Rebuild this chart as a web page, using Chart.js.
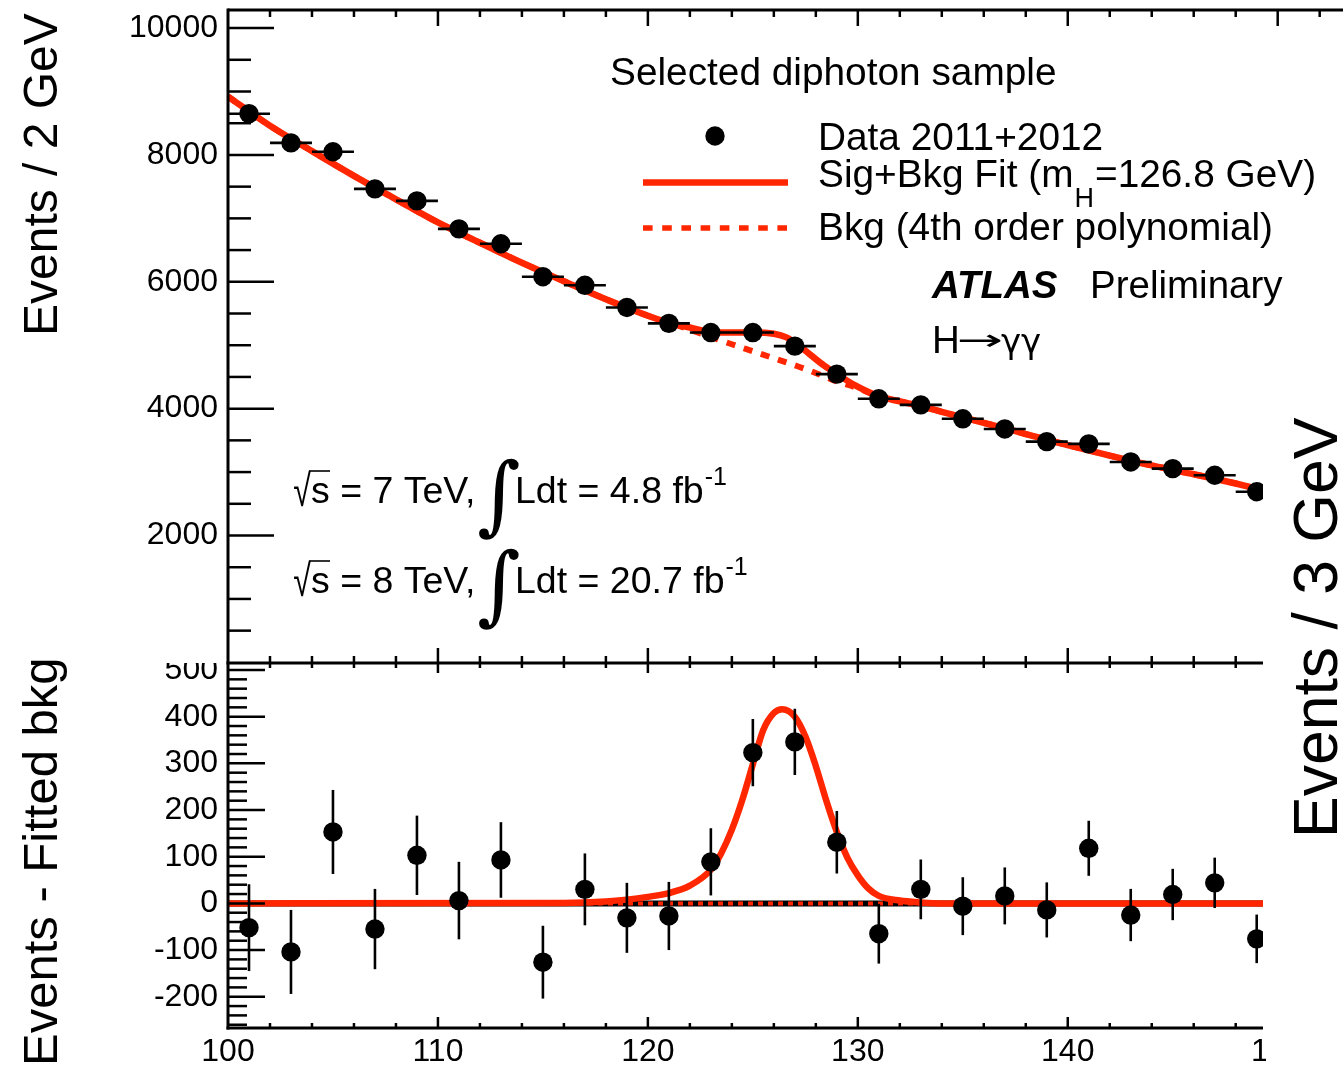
<!DOCTYPE html>
<html>
<head>
<meta charset="utf-8">
<title>H to gamma gamma diphoton mass</title>
<script src="https://cdn.jsdelivr.net/npm/chart.js@4.4.0/dist/chart.umd.min.js"></script>
<style>
  body { margin: 0; background: #fff; }
  #wrap { position: relative; width: 1343px; height: 1068px; }
  canvas { position: absolute; left: 0; top: 0; }
</style>
</head>
<body>
<div id="wrap">
  <canvas id="lower" width="1343" height="1068"></canvas>
  <canvas id="upper" width="1343" height="1068"></canvas>
</div>
<script>
// diphoton mass bin centres, 2 GeV bins
const mass = [101, 103, 105, 107, 109, 111, 113, 115, 117, 119, 121, 123, 125,
              127, 129, 131, 133, 135, 137, 139, 141, 143, 145, 147, 149];
const events = [8650, 8190, 8050, 7465, 7275, 6835, 6600, 6080, 5945, 5595, 5345, 5200, 5200,
                4985, 4545, 4155, 4060, 3840, 3680, 3480, 3445, 3160, 3055, 2950, 2690];
const eventErr = [93, 90, 90, 86, 85, 83, 81, 78, 77, 75, 73, 72, 72,
                  71, 67, 64, 64, 62, 61, 59, 59, 56, 55, 54, 52];
// data minus fitted background
const residual = [-52, -104, 153, -55, 103, 6, 93, -126, 30, -31, -27, 89, 323,
                  346, 131, -65, 30, -6, 16, -14, 118, -25, 19, 44, -76];

// sig+bkg and bkg-only fit curves
const fitMass = [100, 102, 104, 106, 108, 110, 112, 114, 116, 118, 120, 121, 122, 123, 124, 125, 126,
                 126.6, 127.1, 127.7, 128.4, 129, 129.9, 131, 132, 133, 134, 135, 136, 137, 138,
                 140, 142, 144, 146, 147, 148, 149.3, 150];
const sigBkgFit = [8920, 8460, 8060, 7670, 7300, 6935, 6615, 6300, 6010, 5725, 5465, 5355, 5280, 5210, 5200, 5200, 5180,
                   5123, 5018, 4860, 4677, 4546, 4362, 4195, 4115, 4040, 3950, 3862, 3775, 3690, 3600,
                   3425, 3260, 3105, 2965, 2895, 2820, 2715, 2660];
const bkgFit = [8920, 8460, 8060, 7670, 7300, 6935, 6615, 6300, 6010, 5725, 5465, 5355, 5245, 5130, 5015, 4905, 4795,
                4730, 4672, 4600, 4508, 4430, 4335, 4195, 4115, 4040, 3950, 3862, 3775, 3690, 3600,
                3425, 3260, 3105, 2965, 2895, 2820, 2715, 2660];

// signal component shown in the residual panel
const sigMass = [100, 116, 118, 119, 120, 121, 122, 123, 123.5, 124, 124.5, 125, 125.5, 126, 126.4,
                 127, 127.5, 128, 128.5, 129, 129.5, 130, 130.5, 131, 132, 133, 134, 150];
const sigFit = [0, 1, 4, 8, 14, 22, 38, 72, 108, 158, 222, 298, 372, 408, 416,
                400, 358, 294, 220, 153, 98, 60, 32, 16, 6, 2, 0, 0];
const zeroMass = [100, 150];
const zeroFit = [0, 0];

const massTicks = [100, 110, 120, 130, 140, 150];
const countTicks = [2000, 4000, 6000, 8000, 10000];
const residTicks = [-200, -100, 0, 100, 200, 300, 400, 500];

const RED = '#ff2600';
const FONT = '"Liberation Sans", Arial, Helvetica, sans-serif';
Chart.defaults.font.family = FONT;
Chart.defaults.color = '#000';

const pts = (xs, ys) => xs.map((x, i) => ({ x, y: ys[i] }));
const plain = v => String(v);

function noPadding(s) {
  s.paddingLeft = s.paddingRight = s.paddingTop = s.paddingBottom = 0;
}

function line(ctx, x1, y1, x2, y2, w) {
  ctx.beginPath();
  ctx.moveTo(x1, y1);
  ctx.lineTo(x2, y2);
  ctx.lineWidth = w;
  ctx.stroke();
}

function txt(ctx, s, x, y, size, style, family) {
  ctx.font = (style ? style + ' ' : '') + size + 'px ' + (family || FONT);
  ctx.fillText(s, x, y);
  return x + ctx.measureText(s).width;
}

// rotated title, reading bottom to top; (x, y) is the baseline start
function vtxt(ctx, s, x, y, size) {
  ctx.save();
  ctx.translate(x, y);
  ctx.rotate(-Math.PI / 2);
  ctx.font = size + 'px ' + FONT;
  ctx.fillText(s, 0, 0);
  ctx.restore();
}

// draw one glyph stretched to fill a box
function glyphBox(ctx, ch, font, x0, y0, x1, y1) {
  ctx.save();
  ctx.font = font;
  const m = ctx.measureText(ch);
  const w = m.actualBoundingBoxLeft + m.actualBoundingBoxRight;
  const h = m.actualBoundingBoxAscent + m.actualBoundingBoxDescent;
  ctx.translate(x0, y0);
  ctx.scale((x1 - x0) / w, (y1 - y0) / h);
  ctx.fillText(ch, m.actualBoundingBoxLeft, m.actualBoundingBoxAscent);
  ctx.restore();
}

function lumiLine(ctx, y, energy, lumi) {
  const dy = y - 503;
  glyphBox(ctx, '\u221A', '100px ' + FONT, 294, 470 + dy, 311, 506 + dy);
  line(ctx, 309, 471 + dy, 330, 471 + dy, 1.6);
  txt(ctx, 's = ' + energy + ' TeV,', 311, y, 37.5);
  glyphBox(ctx, '\u222B', '100px "DejaVu Serif"', 479, 458 + dy, 519, 540 + dy);
  const x = txt(ctx, 'Ldt = ' + lumi + ' fb', 515, y, 37.5);
  txt(ctx, '-1', x + 1, y - 18, 25);
}

// error bars drawn just under the markers
function errorBars(errs, halfWidth) {
  return {
    id: 'errorBars',
    beforeDatasetDraw(chart, args) {
      if (args.index !== 0) return;
      const { ctx, chartArea: a, scales: { x, y } } = chart;
      ctx.save();
      ctx.beginPath();
      ctx.rect(a.left, a.top, a.width, a.height);
      ctx.clip();
      ctx.strokeStyle = '#000';
      chart.data.datasets[0].data.forEach((p, i) => {
        const px = x.getPixelForValue(p.x), py = y.getPixelForValue(p.y);
        line(ctx, px, y.getPixelForValue(p.y - errs[i]), px, y.getPixelForValue(p.y + errs[i]), 2.6);
        if (halfWidth) line(ctx, x.getPixelForValue(p.x - halfWidth), py, x.getPixelForValue(p.x + halfWidth), py, 2.6);
      });
      ctx.restore();
    }
  };
}

const upperFrame = {
  id: 'upperFrame',
  afterDraw(chart) {
    const { ctx, chartArea: a, scales: { x, y } } = chart;
    ctx.save();
    ctx.strokeStyle = '#000';
    ctx.fillStyle = '#fff';
    ctx.fillRect(100, 630, a.left - 102, a.bottom - 630);

    line(ctx, a.left, a.top - 1.5, a.left, a.bottom, 3);
    line(ctx, a.left, a.top, chart.width, a.top, 3);
    for (let m = 102; m <= 152; m += 2) {
      const px = x.getPixelForValue(m);
      const major = m % 10 === 0;
      line(ctx, px, a.top, px, a.top + (major ? 16 : 7), 2.5);
      if (m < 149.3) line(ctx, px, a.bottom, px, a.bottom - (major ? 15 : 7), 2.5);
    }
    for (let v = 500; v <= 10000; v += 500) {
      const py = y.getPixelForValue(v);
      line(ctx, a.left, py, a.left + (v % 2000 === 0 ? 46 : 23), py, 2.5);
    }

    // the neighbouring plot's margin
    ctx.fillRect(1266, 27, chart.width - 1266, chart.height - 27);

    ctx.fillStyle = '#000';
    ctx.textAlign = 'left';
    ctx.textBaseline = 'alphabetic';
    txt(ctx, 'Selected diphoton sample', 610, 85, 38.8);

    ctx.beginPath();
    ctx.arc(715, 136, 9.7, 0, Math.PI * 2);
    ctx.fill();
    txt(ctx, 'Data 2011+2012', 818, 150, 38.8);

    ctx.strokeStyle = RED;
    line(ctx, 643, 182.5, 788, 182.5, 6.5);
    let xs = txt(ctx, 'Sig+Bkg Fit (m', 818, 187, 38.8);
    xs = txt(ctx, 'H', xs + 1, 207, 27);
    txt(ctx, '=126.8 GeV)', xs + 1, 187, 38.8);

    ctx.setLineDash([9.6, 9.6]);
    line(ctx, 643, 228, 788, 228, 5.5);
    ctx.setLineDash([]);
    txt(ctx, 'Bkg (4th order polynomial)', 818, 240, 38.8);

    txt(ctx, 'ATLAS', 932, 298, 38.5, 'italic bold');
    txt(ctx, 'Preliminary', 1090, 298, 38.5);
    txt(ctx, 'H', 932, 353, 38.5);
    glyphBox(ctx, '\u2192', '100px "DejaVu Sans"', 959, 334, 1000, 347);
    txt(ctx, '\u03B3\u03B3', 1001, 353, 34, '', '"DejaVu Sans"');

    ctx.strokeStyle = '#000';
    lumiLine(ctx, 503, '7', '4.8');
    lumiLine(ctx, 593, '8', '20.7');

    vtxt(ctx, 'Events / 2 GeV', 57, 336, 48);
    vtxt(ctx, 'Events / 3 GeV', 1337, 838, 62.5);
    ctx.restore();
  }
};

const lowerFrame = {
  id: 'lowerFrame',
  afterDraw(chart) {
    const { ctx, chartArea: a, scales: { x, y } } = chart;
    ctx.save();
    ctx.strokeStyle = '#000';
    line(ctx, a.left, a.top, a.left, a.bottom + 1.5, 3);
    line(ctx, a.left - 1.5, a.bottom, a.right, a.bottom, 3);
    line(ctx, a.left - 1.5, a.top, a.right, a.top, 3);
    for (let m = 102; m < 149.3; m += 2) {
      const px = x.getPixelForValue(m);
      const major = m % 10 === 0;
      line(ctx, px, a.top, px, a.top + (major ? 10 : 5), 2.5);
      line(ctx, px, a.bottom, px, a.bottom - (major ? 11 : 5), 2.5);
    }
    for (let v = -260; v <= 500; v += 20) {
      const py = y.getPixelForValue(v);
      line(ctx, a.left, py, a.left + (v % 100 === 0 ? 37 : 19), py, 2.5);
    }
    ctx.fillStyle = '#000';
    vtxt(ctx, 'Events - Fitted bkg', 57, 1066, 49);
    ctx.restore();
  }
};

const common = {
  responsive: false,
  animation: false,
  devicePixelRatio: 1,
  events: [],
  plugins: { legend: { display: false }, tooltip: { enabled: false } }
};

const markers = {
  showLine: false, pointRadius: 9.7, pointHoverRadius: 9.7,
  pointBackgroundColor: '#000', pointBorderWidth: 0, clip: 0, order: 0
};
const curve = { pointRadius: 0, fill: false, cubicInterpolationMode: 'monotone', clip: 0 };

new Chart(document.getElementById('upper'), {
  type: 'line',
  data: {
    datasets: [
      { ...markers, data: pts(mass, events) },
      { ...curve, data: pts(fitMass, sigBkgFit), borderColor: RED, borderWidth: 6.5, order: 1 },
      { ...curve, data: pts(fitMass, bkgFit), borderColor: RED, borderWidth: 6, borderDash: [9, 9], order: 2 }
    ]
  },
  options: {
    ...common,
    layout: { padding: { left: 0, top: 10, right: 80, bottom: 405 } },
    scales: {
      x: { type: 'linear', min: 100, max: 149.3, display: false },
      y: {
        type: 'linear', min: -10, max: 10285,
        grid: { display: false, drawTicks: false }, border: { display: false },
        ticks: { font: { size: 32 }, padding: 10, callback: plain },
        afterBuildTicks: s => { s.ticks = countTicks.map(v => ({ value: v })); },
        afterFit: s => { s.width = 228; noPadding(s); }
      }
    }
  },
  plugins: [errorBars(eventErr, 1), upperFrame]
});

new Chart(document.getElementById('lower'), {
  type: 'line',
  data: {
    datasets: [
      { ...markers, data: pts(mass, residual) },
      { ...curve, data: pts(sigMass, sigFit), borderColor: RED, borderWidth: 6.5, order: 1 },
      { ...curve, data: pts(zeroMass, zeroFit), borderColor: RED, borderWidth: 4, borderDash: [5, 5], order: 2 },
      { ...curve, data: pts(zeroMass, zeroFit), borderColor: '#000', borderWidth: 6, order: 3 }
    ]
  },
  options: {
    ...common,
    layout: { padding: { left: 0, top: 663, right: 80, bottom: 0 } },
    scales: {
      x: {
        type: 'linear', min: 100, max: 149.3, position: 'bottom',
        grid: { display: false, drawTicks: false }, border: { display: false },
        ticks: { font: { size: 32 }, padding: 5, autoSkip: false, maxRotation: 0, callback: plain },
        afterBuildTicks: s => { s.ticks = massTicks.map(v => ({ value: v })); },
        afterFit: s => { s.height = 40; noPadding(s); }
      },
      y: {
        type: 'linear', min: -267, max: 515,
        grid: { display: false, drawTicks: false }, border: { display: false },
        ticks: { font: { size: 32 }, padding: 10, callback: plain },
        afterBuildTicks: s => { s.ticks = residTicks.map(v => ({ value: v })); },
        afterFit: s => { s.width = 228; noPadding(s); }
      }
    }
  },
  plugins: [errorBars(eventErr, 0), lowerFrame]
});
</script>
</body>
</html>
